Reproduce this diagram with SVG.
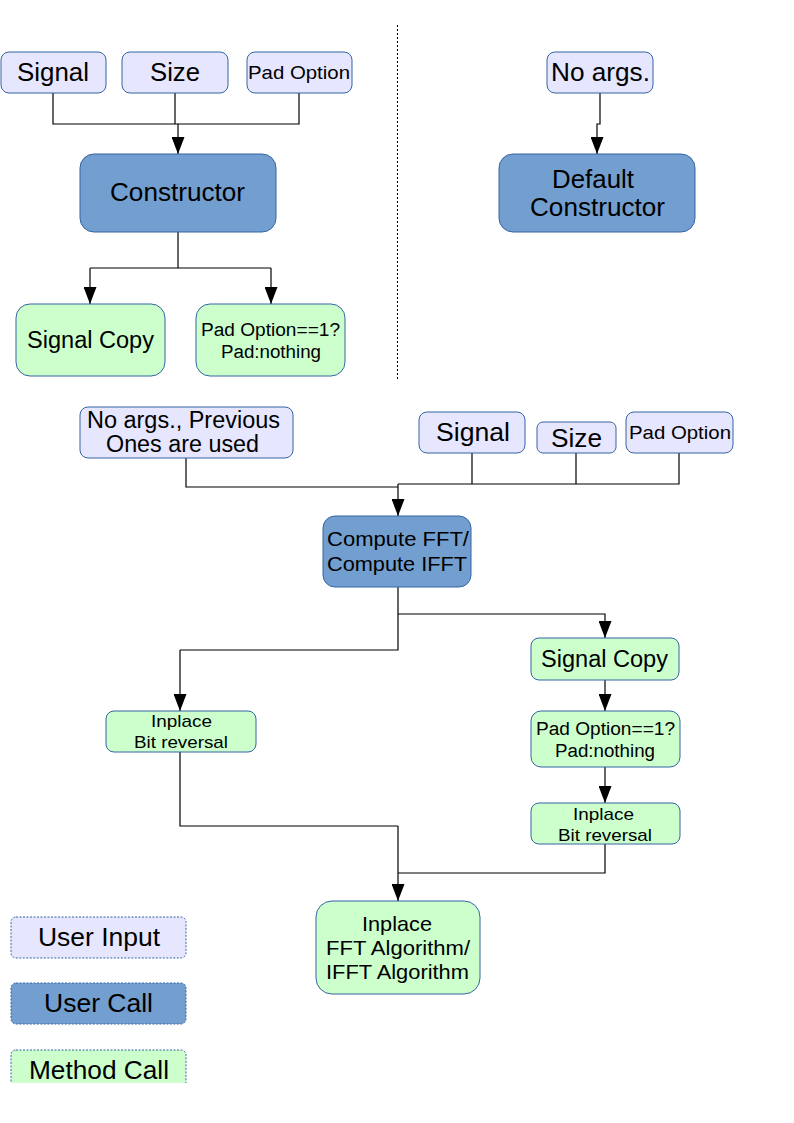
<svg xmlns="http://www.w3.org/2000/svg" width="794" height="1123" viewBox="0 0 794 1123">
<defs>
<marker id="ar" viewBox="0 0 17 13" refX="17" refY="6.5" markerWidth="17" markerHeight="13" markerUnits="userSpaceOnUse" orient="auto">
<path d="M0,0 L17,6.5 L0,13 Z" fill="#000"/>
</marker>
<clipPath id="clipM"><rect x="0" y="1040" width="200" height="43"/></clipPath>
</defs>
<style>
text{font-family:"Liberation Sans",Arial,sans-serif;fill:#000;text-anchor:middle}
.in{fill:#e6e6ff;stroke:#3465a4;stroke-width:1}
.uc{fill:#729fcf;stroke:#3465a4;stroke-width:1}
.mc{fill:#ccffcc;stroke:#3465a4;stroke-width:1}
.lg{stroke-dasharray:2,1.5}
.c{fill:none;stroke:#000;stroke-width:1.2}
</style>
<rect width="794" height="1123" fill="#fff"/>
<line x1="397.5" y1="25" x2="397.5" y2="381" stroke="#000" stroke-width="1" stroke-dasharray="2,2"/>
<g id="connectors">
<path class="c" d="M53,93 V124 H299 V93 M175,93 V124"/>
<path class="c" d="M178,124 V154" marker-end="url(#ar)"/>
<path class="c" d="M178,232 V268 H271 M178,268 H90"/>
<path class="c" d="M90,268 V304" marker-end="url(#ar)"/>
<path class="c" d="M271,268 V304" marker-end="url(#ar)"/>
<path class="c" d="M600,93 V124 H597 V154" marker-end="url(#ar)"/>
<path class="c" d="M186,458 V487 H398 M472,453 V484 H679 V453 M576,453 V484 M398,484 H472"/>
<path class="c" d="M398,484 V516" marker-end="url(#ar)"/>
<path class="c" d="M398,587 V650 H180"/>
<path class="c" d="M180,650 V711" marker-end="url(#ar)"/>
<path class="c" d="M398,614 H605 V638" marker-end="url(#ar)"/>
<path class="c" d="M605,680 V711" marker-end="url(#ar)"/>
<path class="c" d="M605,767 V803" marker-end="url(#ar)"/>
<path class="c" d="M180,752 V826 H398 M605,844 V873 H398"/>
<path class="c" d="M398,826 V901" marker-end="url(#ar)"/>
</g>
<g id="n-signal"><rect class="in" x="1" y="52" width="105" height="41" rx="8"/><text x="53" y="81" font-size="25" textLength="72" lengthAdjust="spacingAndGlyphs">Signal</text></g>
<g id="n-size"><rect class="in" x="122" y="52" width="106" height="41" rx="8"/><text x="175" y="81" font-size="25" textLength="50" lengthAdjust="spacingAndGlyphs">Size</text></g>
<g id="n-pad"><rect class="in" x="247" y="52" width="105" height="41" rx="8"/><text x="299" y="79" font-size="19" textLength="102" lengthAdjust="spacingAndGlyphs">Pad Option</text></g>
<g id="n-constructor"><rect class="uc" x="80" y="154" width="196" height="78" rx="14"/><text x="177.5" y="201" font-size="25" textLength="135" lengthAdjust="spacingAndGlyphs">Constructor</text></g>
<g id="n-sigcopy1"><rect class="mc" x="16" y="304" width="149" height="72" rx="14"/><text x="90.5" y="348" font-size="23" textLength="127" lengthAdjust="spacingAndGlyphs">Signal Copy</text></g>
<g id="n-padopt1"><rect class="mc" x="196" y="304" width="149" height="72" rx="14"/><text x="270.5" y="336" font-size="18" textLength="139" lengthAdjust="spacingAndGlyphs">Pad Option==1?</text><text x="271" y="358" font-size="18" textLength="100" lengthAdjust="spacingAndGlyphs">Pad:nothing</text></g>
<g id="n-noargs"><rect class="in" x="547" y="52" width="106" height="41" rx="8"/><text x="600.5" y="81" font-size="25" textLength="99" lengthAdjust="spacingAndGlyphs">No args.</text></g>
<g id="n-defcons"><rect class="uc" x="499" y="154" width="196" height="78" rx="14"/><text x="593" y="188" font-size="25" textLength="82" lengthAdjust="spacingAndGlyphs">Default</text><text x="597.5" y="216" font-size="25" textLength="135" lengthAdjust="spacingAndGlyphs">Constructor</text></g>
<g id="n-prev"><rect class="in" x="80" y="407" width="213" height="51" rx="8"/><text x="183.5" y="428" font-size="23" textLength="193" lengthAdjust="spacingAndGlyphs">No args., Previous</text><text x="182.5" y="452" font-size="23" textLength="153" lengthAdjust="spacingAndGlyphs">Ones are used</text></g>
<g id="n-signal2"><rect class="in" x="419" y="412" width="106" height="41" rx="8"/><text x="473" y="441" font-size="25" textLength="74" lengthAdjust="spacingAndGlyphs">Signal</text></g>
<g id="n-size2"><rect class="in" x="537" y="422" width="79" height="31" rx="6"/><text x="576.5" y="447" font-size="25" textLength="51" lengthAdjust="spacingAndGlyphs">Size</text></g>
<g id="n-pad2"><rect class="in" x="626" y="412" width="107" height="41" rx="8"/><text x="680" y="439" font-size="19" textLength="102" lengthAdjust="spacingAndGlyphs">Pad Option</text></g>
<g id="n-compute"><rect class="uc" x="323" y="516" width="148" height="71" rx="12"/><text x="398" y="546" font-size="20" textLength="142" lengthAdjust="spacingAndGlyphs">Compute FFT/</text><text x="397" y="571" font-size="20" textLength="140" lengthAdjust="spacingAndGlyphs">Compute IFFT</text></g>
<g id="n-bitrev1"><rect class="mc" x="106" y="711" width="150" height="41" rx="8"/><text x="181.5" y="727" font-size="17" textLength="61" lengthAdjust="spacingAndGlyphs">Inplace</text><text x="181" y="748" font-size="17" textLength="94" lengthAdjust="spacingAndGlyphs">Bit reversal</text></g>
<g id="n-sigcopy2"><rect class="mc" x="531" y="638" width="148" height="42" rx="8"/><text x="604.5" y="667" font-size="23" textLength="127" lengthAdjust="spacingAndGlyphs">Signal Copy</text></g>
<g id="n-padopt2"><rect class="mc" x="531" y="711" width="149" height="56" rx="10"/><text x="605.5" y="735" font-size="18" textLength="139" lengthAdjust="spacingAndGlyphs">Pad Option==1?</text><text x="605" y="757" font-size="18" textLength="100" lengthAdjust="spacingAndGlyphs">Pad:nothing</text></g>
<g id="n-bitrev2"><rect class="mc" x="531" y="803" width="149" height="41" rx="8"/><text x="603.5" y="820" font-size="17" textLength="61" lengthAdjust="spacingAndGlyphs">Inplace</text><text x="605" y="841" font-size="17" textLength="94" lengthAdjust="spacingAndGlyphs">Bit reversal</text></g>
<g id="n-fftalg"><rect class="mc" x="316" y="901" width="164" height="93" rx="16"/><text x="397" y="931" font-size="21" textLength="70" lengthAdjust="spacingAndGlyphs">Inplace</text><text x="398" y="955" font-size="21" textLength="144" lengthAdjust="spacingAndGlyphs">FFT Algorithm/</text><text x="397.5" y="979" font-size="21" textLength="143" lengthAdjust="spacingAndGlyphs">IFFT Algorithm</text></g>
<g id="legend-input"><rect class="in lg" x="11" y="917" width="175" height="41" rx="5"/><text x="99" y="946" font-size="25" textLength="122" lengthAdjust="spacingAndGlyphs">User Input</text></g>
<g id="legend-call"><rect class="uc lg" x="11" y="983" width="175" height="41" rx="5"/><text x="98.5" y="1012" font-size="25" textLength="109" lengthAdjust="spacingAndGlyphs">User Call</text></g>
<g id="legend-method" clip-path="url(#clipM)"><rect class="mc lg" x="11" y="1050" width="175" height="41" rx="5"/><text x="99" y="1079" font-size="25" textLength="140" lengthAdjust="spacingAndGlyphs">Method Call</text></g>
</svg>
